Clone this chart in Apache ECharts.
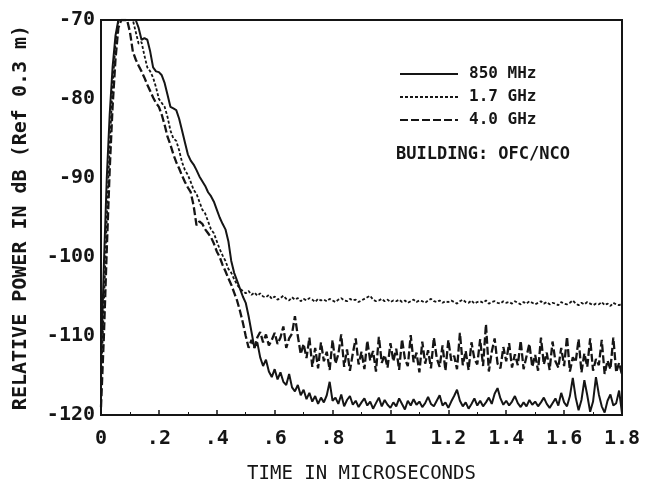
<!DOCTYPE html>
<html>
<head>
<meta charset="utf-8">
<script src="https://cdn.jsdelivr.net/npm/echarts@6/dist/echarts.min.js"></script>
<style>html,body{margin:0;padding:0;background:#fff;}#c{width:652px;height:489px;}</style>
</head>
<body>
<div id="c"></div>
<script>
// time step of the sampled curves (microseconds)
const timeStep = 0.01;
const seriesNames = ['850 MHz', '1.7 GHz', '4.0 GHz'];
const xTickLabels = ['0', '.2', '.4', '.6', '.8', '1', '1.2', '1.4', '1.6', '1.8'];
const yTickLabels = ['-120', '-110', '-100', '-90', '-80', '-70'];
const noteText = 'BUILDING: OFC/NCO';

// 850 MHz (solid)
const power850 = [
-113.5,-101,-90,-82,-76,-72,-70,-70,-70,-70,
-70,-70,-70,-71,-72.5,-72.3,-72.5,-74,-76,-76.5,
-76.6,-77,-78,-79.5,-81,-81.2,-81.4,-82.5,-84,-85.5,
-87,-87.8,-88.3,-89,-89.8,-90.4,-91,-91.8,-92.3,-93,
-94,-95,-95.8,-96.5,-98,-100.5,-102,-103,-104,-105,
-105.8,-107.5,-109.5,-111.5,-110.8,-112.7,-113.8,-113,-114.5,-115.2,
-114.2,-115.5,-114.6,-115.8,-116.2,-114.8,-116.5,-117,-116.2,-117.5,
-116.8,-118,-117.2,-118.3,-117.6,-118.6,-117.8,-118.4,-117.5,-115.8,
-118.2,
-117.8,-118.6,-117.4,-118.9,-118.1,-117.6,-118.7,-118.2,-119,-118.4,
-117.9,-118.8,-118.3,-119.2,-118.5,-117.8,-118.9,-118.1,-118.7,-119.1,
-118.4,-118.9,-117.9,-118.6,-119.3,-118.2,-118.8,-118,-118.7,-118.3,
-119,-118.5,-117.7,-118.6,-118.9,-118.2,-117.5,-118.8,-118.4,-119.1,
-118.3,-117.6,-116.8,-118.2,-118.9,-118.4,-119.2,-118.6,-117.9,-118.8,
-118.2,-118.9,-118.4,-117.8,-118.6,-117.3,-116.6,-117.9,-118.7,-118.2,
-118.8,-118.3,-117.6,-118.5,-119,-118.4,-118.9,-118.1,-118.7,-118.3,
-118.9,-118.4,-117.8,-118.6,-119.1,-118.5,-117.9,-118.8,-117.2,-118.4,
-118.9,-117.6,-115.3,-117.8,-119.4,-118.1,-115.6,-117.5,-119.6,-118.3,
-115.2,-117.4,-118.9,-119.7,-118.2,-117.4,-118.8,-118.5,-116.9,-119.8
];

// 1.7 GHz (dotted)
const power1700 = [
-116,-106,-95,-86,-78.5,-73,-70,-70,-70,-70,
-70,-70,-71.5,-73,-72.8,-74.5,-76,-76.5,-77.3,-78.5,
-80,-80.5,-81,-82.3,-84,-85,-85.3,-86.5,-88,-89,
-89.6,-90.5,-91.5,-92,-93,-94,-94.5,-95.5,-96.5,-97,
-98,-99,-99.8,-100.5,-101.5,-102,-102.8,-103.5,-104,-104.3,
-104.6,-104.3,-104.8,-104.5,-104.9,-104.6,-105,
-105.1,-104.8,-105.3,-105,
-105.4,-105.2,-104.9,-105.3,-105.5,-105.1,-105.4,-105.2,-105.6,-105.3,
-105.5,-105.2,-105.4,-105.7,-105.3,-105.5,-105.4,-105.6,-105.3,-105.5,
-105.7,-105.4,-105.2,-105.5,-105.6,-105.3,-105.5,-105.4,-105.7,-105.5,
-105.3,-105.1,-104.9,-105.4,-105.6,-105.5,-105.3,-105.6,-105.4,-105.7,
-105.5,-105.6,-105.4,-105.7,-105.5,-105.8,-105.6,-105.4,-105.7,-105.5,
-105.6,-105.8,-105.5,-105.3,-105.6,-105.7,-105.5,-105.8,-105.6,-105.7,
-105.5,-105.7,-105.9,-105.6,-105.4,-105.7,-105.8,-105.5,-105.9,-105.7,
-105.6,-105.8,-105.5,-105.9,-105.7,-105.6,-105.8,-105.9,-105.6,-105.8,
-105.7,-105.9,-105.6,-105.8,-106,-105.7,-105.9,-105.6,-105.8,-106,
-105.8,-105.6,-105.9,-105.7,-106,-105.8,-105.9,-106.1,-105.7,-105.9,
-106,-105.8,-105.5,-105.9,-106.1,-105.8,-106,-105.7,-105.9,-106.1,
-105.9,-106,-105.7,-106.1,-105.9,-106.2,-105.8,-106,-106.1,-105.9
];

// 4.0 GHz (dashed)
const power4000 = [
-119,-110,-99,-89,-81,-75,-71,-70,-70,-70,
-71.5,-74,-75,-75.8,-76.5,-77.3,-78.2,-79,-79.8,-80.5,
-81,-82,-83.3,-84.8,-85.8,-87,-88,-88.8,-89.7,-90.5,
-91.2,-91.8,-93.5,-96,-95.5,-95.8,-96.5,-97,-97.5,-98.3,
-99.3,-100,-101,-101.8,-102.7,-103.5,-104.5,-105.5,-106.8,-108.3,
-110,-111.5,-110.5,-111.5,-110.2,-109.5,-110.8,-109.8,-111.2,-110.5,
-109.6,-111,-110.2,-108.8,-111.5,-110.3,-109.7,-107.5,-110,-112.3,
-111,
-112.8,-110.2,-113.9,-111.5,-114.1,-110.8,-113.2,-112,-114.3,-110.5,
-113.5,-112.3,-109.8,-113.9,-111.7,-114.4,-112.2,-110.3,-113.6,-112,
-114.2,-110.6,-113.1,-111.9,-114.5,-110.1,-113.4,-112.4,-114,-110.9,
-113.2,-111.6,-114.3,-110.4,-112.9,-113.8,-109.9,-113.3,-112.1,-114.6,
-110.7,-113.5,-111.8,-114.1,-110.2,-112.8,-113.9,-111.2,-114.4,-110.5,
-113.1,-112.5,-114.2,-109.6,-113.7,-111.9,-114.3,-110.8,-112.9,-113.6,
-110.4,-113.8,-108.5,-114.5,-112,-110.3,-113.5,-114.1,-111.4,-113.2,
-110.9,-114,-112.3,-113.7,-110.6,-114.2,-112.6,-111,-113.9,-112.4,
-114.4,-110.2,-113.6,-112.1,-114.3,-110.7,-113.2,-114,-111.5,-113.8,
-110.1,-114.5,-112.7,-113.3,-110.4,-114.6,-112.2,-113.9,-110.3,-114.4,
-112.9,-113.7,-110.5,-114.8,-113.1,-114.2,-110.2,-114.6,-113.4,-114.9
];

function toPairs(arr) {
  return arr.map((v, i) => [+(i * timeStep).toFixed(2), v]);
}

const FONT = '"DejaVu Sans Mono", monospace';
const INK = '#151515';

const chart = echarts.init(document.getElementById('c'), null, { renderer: 'canvas' });
chart.setOption({
  animation: false,
  backgroundColor: '#ffffff',
  grid: {
    left: 101, right: 30, top: 20, bottom: 74,
    show: true, borderColor: INK, borderWidth: 2, backgroundColor: 'transparent'
  },
  legend: {
    data: seriesNames,
    orient: 'vertical',
    left: 394, top: 61,
    itemWidth: 58, itemHeight: 14, itemGap: 7,
    selectedMode: false,
    itemStyle: { opacity: 0 },
    textStyle: { fontFamily: FONT, fontWeight: 'bold', fontSize: 16, color: INK, padding: [0, 0, 0, 6] }
  },
  graphic: [{
    type: 'text', left: 396, top: 146,
    style: { text: noteText, font: 'bold 17px "DejaVu Sans Mono", monospace', fill: INK }
  }],
  xAxis: {
    type: 'value', min: 0, max: 1.8, interval: 0.2,
    name: 'TIME IN MICROSECONDS', nameLocation: 'middle', nameGap: 50,
    nameTextStyle: { fontFamily: FONT, fontSize: 19, color: INK },
    axisLine: { show: true, lineStyle: { color: INK, width: 2 } },
    axisTick: { show: true, inside: true, length: 5, lineStyle: { color: INK, width: 1.5 } },
    minorTick: { show: true, splitNumber: 2, length: 3, lineStyle: { color: INK, width: 1 } },
    splitLine: { show: false },
    axisLabel: {
      margin: 14, fontFamily: FONT, fontWeight: 'bold', fontSize: 20, color: INK,
      formatter: v => xTickLabels[Math.round(v / 0.2)]
    }
  },
  yAxis: {
    type: 'value', min: -120, max: -70, interval: 10,
    name: 'RELATIVE POWER IN dB (Ref 0.3 m)', nameLocation: 'middle', nameGap: 70, nameRotate: 90,
    nameTextStyle: { fontFamily: FONT, fontWeight: 'bold', fontSize: 20, color: INK },
    axisLine: { show: true, lineStyle: { color: INK, width: 2 } },
    axisTick: { show: false },
    splitLine: { show: false },
    axisLabel: {
      margin: 6, fontFamily: FONT, fontWeight: 'bold', fontSize: 20, color: INK,
      formatter: v => yTickLabels[Math.round((v + 120) / 10)]
    }
  },
  series: [
    { name: seriesNames[0], type: 'line', data: toPairs(power850), symbol: 'none', clip: true,
      lineStyle: { color: INK, width: 2, type: 'solid' }, itemStyle: { color: INK } },
    { name: seriesNames[1], type: 'line', data: toPairs(power1700), symbol: 'none', clip: true,
      lineStyle: { color: INK, width: 1.8, type: [3, 2] }, itemStyle: { color: INK } },
    { name: seriesNames[2], type: 'line', data: toPairs(power4000), symbol: 'none', clip: true,
      lineStyle: { color: INK, width: 2.3, type: [8, 3] }, itemStyle: { color: INK } }
  ]
});
</script>
</body>
</html>
